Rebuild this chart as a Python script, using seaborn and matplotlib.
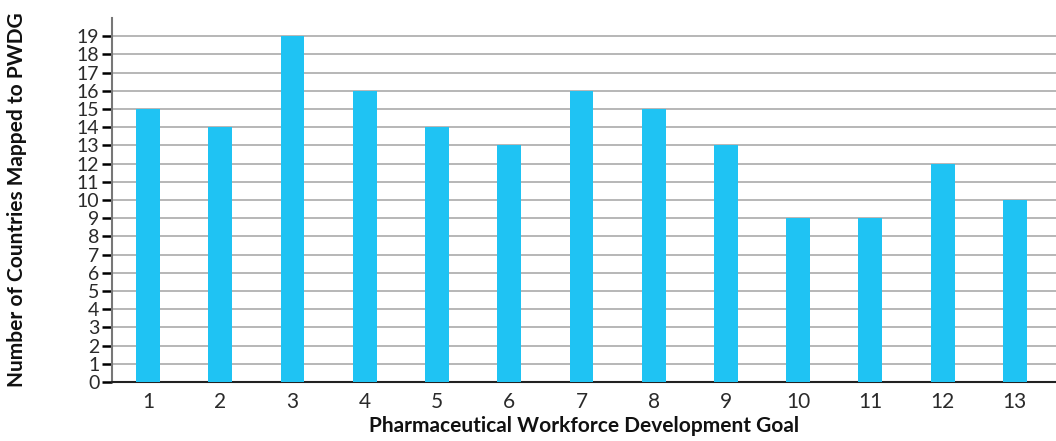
import matplotlib
matplotlib.use("Agg")
import matplotlib.pyplot as plt
import seaborn as sns
import pandas as pd

# goal numbers and how many countries mapped to each
goals = ['1', '2', '3', '4', '5', '6', '7', '8', '9', '10', '11', '12', '13']
countries = [15, 14, 19, 16, 14, 13, 16, 15, 13, 9, 9, 12, 10]
y_ticks = list(range(0, 20))

df = pd.DataFrame({'Goal': goals, 'Countries': countries})

sns.set_style("white", {'ytick.left': True})
plt.rcParams['font.family'] = ['Lato', 'DejaVu Sans']

fig = plt.figure(figsize=(10.56, 4.41), dpi=100)
ax = fig.add_axes([0.106, 0.134, 0.894, 0.825])

ax.grid(axis='y', color='#aaaaaa', linewidth=1.2, zorder=0)
ax.set_axisbelow(True)
sns.barplot(x='Goal', y='Countries', data=df, color='#1fc3f3', width=0.33,
            saturation=1, linewidth=0, ax=ax, zorder=3)

ax.set_ylim(0, 20)
ax.set_xlim(-0.5, 12.57)
ax.set_yticks(y_ticks)
ax.set_yticklabels([str(t) for t in y_ticks])
ax.tick_params(axis='y', left=True, length=7, width=1.8, color='black', pad=2,
               direction='out', labelsize=14, labelcolor='#2a2a2a')
ax.tick_params(axis='x', bottom=False, length=0, pad=7, labelsize=15, labelcolor='#2a2a2a')

ax.set_xlabel('Pharmaceutical Workforce Development Goal', fontsize=15,
              fontweight='bold', color='#111111', labelpad=3)
ax.set_ylabel('Number of Countries Mapped to PWDG', fontsize=15,
              fontweight='bold', color='#111111', labelpad=36)

sns.despine(ax=ax, top=True, right=True)
ax.spines['left'].set_color('#777777')
ax.spines['left'].set_linewidth(1.5)
ax.spines['bottom'].set_color('#222222')
ax.spines['bottom'].set_linewidth(1.5)

plt.savefig('out.png', dpi=100)
plt.close()
